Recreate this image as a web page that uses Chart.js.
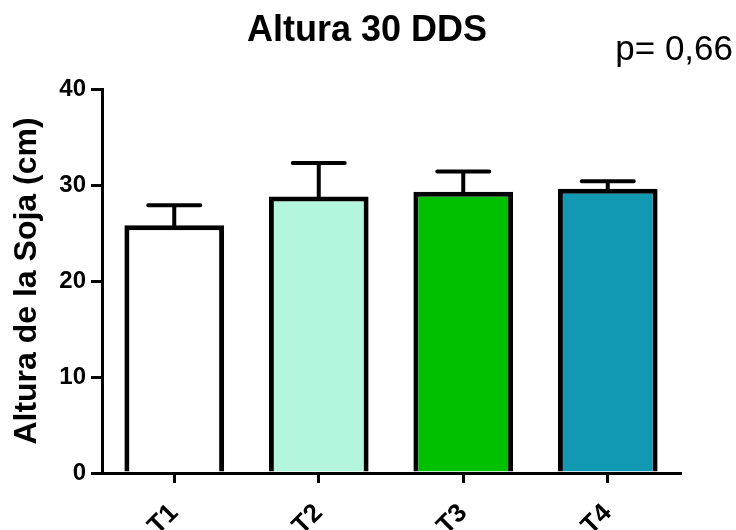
<!DOCTYPE html>
<html>
<head>
<meta charset="utf-8">
<script src="https://cdn.jsdelivr.net/npm/chart.js@4"></script>
<style>
  html, body { margin: 0; padding: 0; background: #fff; }
  #wrap { width: 736px; height: 530px; }
</style>
</head>
<body>
<div id="wrap"><canvas id="chart" width="736" height="530"></canvas></div>
<script>
const treatments = ['T1', 'T2', 'T3', 'T4'];
const heightMeans = [25.8, 28.8, 29.3, 29.6];
const heightErrors = [2.1, 3.5, 2.1, 0.8];
const barColors = ['#ffffff', '#b4f5de', '#00c000', '#1199b3'];
const yTicks = [0, 10, 20, 30, 40];
const chartTitle = 'Altura 30 DDS';
const pValueText = 'p= 0,66';

const FONT = '"Liberation Sans", Arial, sans-serif';

const errorBars = {
    id: 'errorBars',
    afterDatasetsDraw(chart) {
        const ctx = chart.ctx;
        const meta = chart.getDatasetMeta(0);
        const y = chart.scales.y;
        ctx.save();
        ctx.strokeStyle = '#000';
        ctx.lineWidth = 4;
        ctx.lineCap = 'round';
        meta.data.forEach((bar, i) => {
            const top = y.getPixelForValue(heightMeans[i] + heightErrors[i]);
            const base = y.getPixelForValue(heightMeans[i]);
            ctx.beginPath();
            ctx.moveTo(bar.x, base);
            ctx.lineTo(bar.x, top);
            ctx.moveTo(bar.x - 26, top);
            ctx.lineTo(bar.x + 26, top);
            ctx.stroke();
        });
        ctx.restore();
    }
};

// title and p-value drawn by hand: the title sits centred on the whole canvas
const headerText = {
    id: 'headerText',
    afterDraw(chart) {
        const ctx = chart.ctx;
        ctx.save();
        ctx.fillStyle = '#000';
        ctx.textBaseline = 'middle';
        ctx.font = 'bold 36px ' + FONT;
        ctx.textAlign = 'center';
        ctx.fillText(chartTitle, 367, 31);
        ctx.font = '35px ' + FONT;
        ctx.textAlign = 'right';
        ctx.fillText(pValueText, 733, 50);
        ctx.restore();
    }
};

new Chart(document.getElementById('chart'), {
    type: 'bar',
    data: {
        labels: treatments,
        datasets: [{
            data: heightMeans,
            backgroundColor: barColors,
            borderColor: '#000',
            borderWidth: 5,
            borderSkipped: 'bottom',
            barPercentage: 0.69,
            categoryPercentage: 1
        }]
    },
    options: {
        responsive: false,
        animation: false,
        layout: { padding: { left: 0, right: 56, top: 89, bottom: 0 } },
        plugins: {
            legend: { display: false },
            tooltip: { enabled: false },
            title: { display: false }
        },
        scales: {
            x: {
                offset: true,
                grid: {
                    offset: false,
                    drawOnChartArea: false,
                    drawTicks: true,
                    tickLength: 10,
                    color: '#000',
                    lineWidth: 3
                },
                border: { color: '#000', width: 3 },
                ticks: {
                    color: '#000',
                    font: { family: FONT, size: 26, weight: 'bold' },
                    maxRotation: 45,
                    minRotation: 45,
                    padding: 15
                },
                afterFit(scale) { scale.height = 57; }
            },
            y: {
                min: 0,
                max: 40,
                afterBuildTicks(scale) { scale.ticks = yTicks.map(v => ({ value: v })); },
                grid: {
                    drawOnChartArea: false,
                    drawTicks: true,
                    tickLength: 11,
                    color: '#000',
                    lineWidth: 3
                },
                border: { color: '#000', width: 3 },
                ticks: {
                    color: '#000',
                    font: { family: FONT, size: 24, weight: 'bold' },
                    padding: 5
                },
                title: {
                    display: true,
                    text: 'Altura de la Soja (cm)',
                    color: '#000',
                    font: { family: FONT, size: 32, weight: 'bold' },
                    padding: { top: 8, bottom: 0 }
                },
                afterFit(scale) { scale.width = 102; }
            }
        }
    },
    plugins: [errorBars, headerText]
});
</script>
</body>
</html>
